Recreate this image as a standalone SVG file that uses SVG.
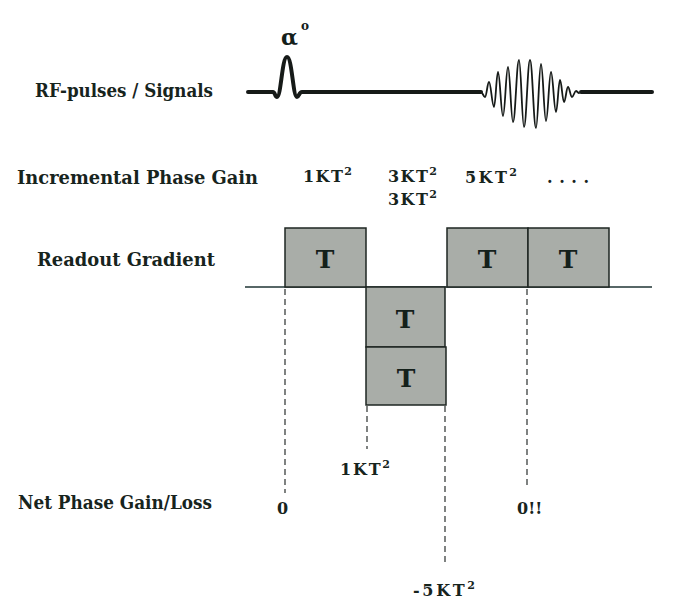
<svg xmlns="http://www.w3.org/2000/svg" width="700" height="609" viewBox="0 0 700 609">
<style>
  .lbl { font-family: "DejaVu Serif", "Liberation Serif", serif; font-weight: bold; font-size: 18px; fill: #17241d; }
  .num { font-family: "DejaVu Serif", "Liberation Serif", serif; font-weight: bold; font-size: 16px; fill: #17241d; }
  .sup { font-size: 11px; }
  .box { fill: #a9ada8; stroke: #1e2622; stroke-width: 1.5; }
  .tt { font-family: "DejaVu Serif", "Liberation Serif", serif; font-weight: bold; font-size: 25px; fill: #14201a; text-anchor: middle; }
  .dash { stroke: #2a2f2d; stroke-width: 1.2; stroke-dasharray: 6 4; fill: none; }
  .wave { fill: none; stroke: #161a18; stroke-linecap: round; stroke-linejoin: round; }
</style>
<rect width="700" height="609" fill="#ffffff"/>

<g id="labels">
  <text class="lbl" x="35" y="97" textLength="178" lengthAdjust="spacingAndGlyphs">RF-pulses / Signals</text>
  <text class="lbl" x="17" y="184" textLength="241" lengthAdjust="spacingAndGlyphs">Incremental Phase Gain</text>
  <text class="lbl" x="37" y="266" textLength="178" lengthAdjust="spacingAndGlyphs">Readout Gradient</text>
  <text class="lbl" x="18" y="509" textLength="194" lengthAdjust="spacingAndGlyphs">Net Phase Gain/Loss</text>
</g>

<g id="rf-signal">
  <text x="281" y="45" font-family="DejaVu Serif, serif" font-weight="bold" font-size="22" fill="#14201a">α</text>
  <text x="301" y="30" font-family="DejaVu Serif, serif" font-weight="bold" font-size="12" fill="#14201a">o</text>
  <path class="wave" stroke-width="4" d="M248,92 H273 C275,92 275,97 277,97 C281,97 282,57 287,57 C292,57 293,97 297,97 C299,97 299,92 302,92 H481"/>
  <path class="wave" stroke-width="1.8" d="M481,92 C482.6,92 483.4,97 485,97 C486.6,97 487.4,82 489,82 C491,82 492,107 494,107 C495.6,107 496.4,72 498,72 C500,72 501,116 503,116 C505,116 506,67 508,67 C510,67 511,122 513,122 C515.4,122 516.6,60 519,60 C521,60 522,127 524,127 C526.4,127 527.6,60 530,60 C532.4,60 533.6,128 536,128 C538,128 539,64 541,64 C543,64 544,121 546,121 C548,121 549,72 551,72 C553,72 554,112 556,112 C557.6,112 558.4,80 560,80 C561.6,80 562.4,102 564,102 C565.6,102 566.4,87 568,87 C569.6,87 570.4,97 572,97 C573.6,97 574.4,91 576,91 C577,91 578,93 579,93"/>
  <path class="wave" stroke-width="4" d="M581,92 H652"/>
</g>

<g id="phase-gain">
  <text class="num" x="303" y="182" textLength="49" lengthAdjust="spacing">1KT<tspan class="sup" dy="-7">2</tspan></text>
  <text class="num" x="388" y="182" textLength="49" lengthAdjust="spacing">3KT<tspan class="sup" dy="-7">2</tspan></text>
  <text class="num" x="388" y="205" textLength="49" lengthAdjust="spacing">3KT<tspan class="sup" dy="-7">2</tspan></text>
  <text class="num" x="465" y="183" textLength="52" lengthAdjust="spacing">5KT<tspan class="sup" dy="-7">2</tspan></text>
  <text class="num" x="547" y="183" textLength="42" lengthAdjust="spacing">....</text>
</g>

<g id="connectors">
  <line x1="245" y1="287" x2="652" y2="287" stroke="#1f3535" stroke-width="1.6"/>
  <line class="dash" x1="285" y1="289" x2="285" y2="493"/>
  <line class="dash" x1="367" y1="406" x2="367" y2="449"/>
  <line class="dash" x1="445" y1="406" x2="445" y2="566"/>
  <line class="dash" x1="527" y1="289" x2="527" y2="487"/>
</g>

<g id="box1"><rect class="box" x="285" y="228" width="81" height="59"/><text class="tt" x="325" y="268">T</text></g>
<g id="box2"><rect class="box" x="366" y="287" width="79" height="60"/><text class="tt" x="405" y="328">T</text></g>
<g id="box3"><rect class="box" x="366" y="347" width="80" height="58"/><text class="tt" x="406" y="387">T</text></g>
<g id="box4"><rect class="box" x="447" y="228" width="81" height="59"/><text class="tt" x="487" y="268">T</text></g>
<g id="box5"><rect class="box" x="528" y="228" width="81" height="59"/><text class="tt" x="568" y="268">T</text></g>

<g id="net-phase">
  <text class="num" x="277" y="514">0</text>
  <text class="num" x="340" y="475" textLength="50" lengthAdjust="spacing">1KT<tspan class="sup" dy="-7">2</tspan></text>
  <text class="num" x="517" y="514">0!!</text>
  <text class="num" x="413" y="596" textLength="62" lengthAdjust="spacing">-5KT<tspan class="sup" dy="-7">2</tspan></text>
</g>
</svg>
